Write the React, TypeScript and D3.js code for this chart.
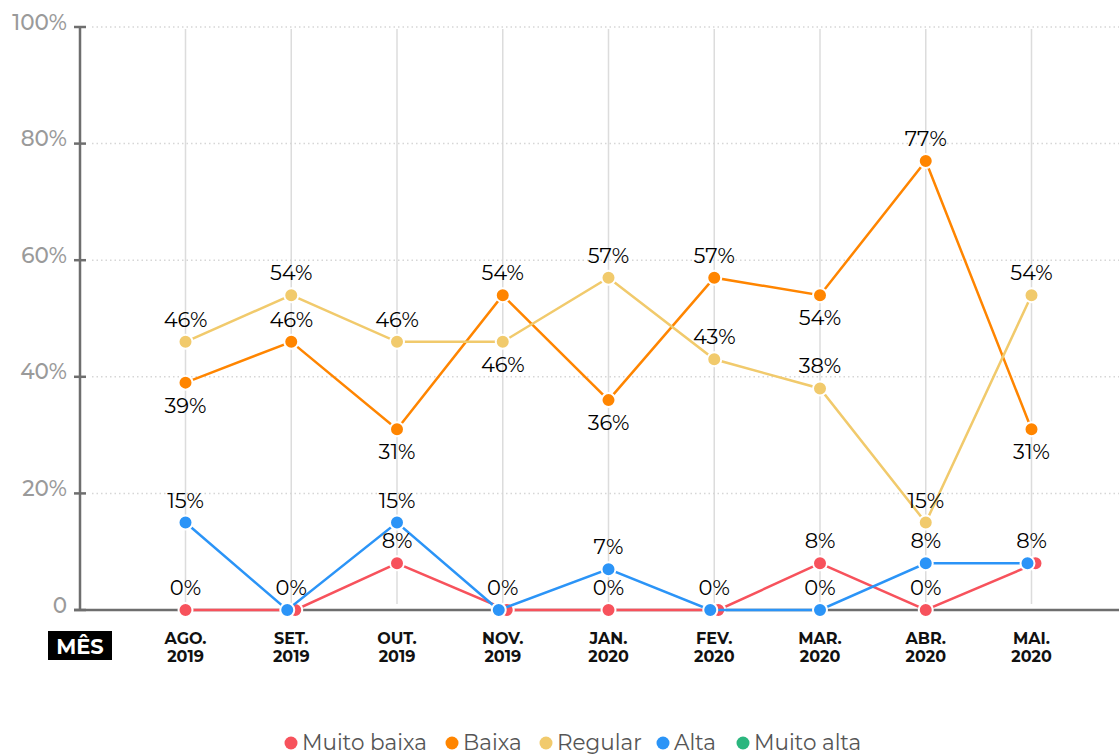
import React from "react";
import * as d3 from "d3";

// months on the x axis (two lines each)
const months = ["AGO.", "SET.", "OUT.", "NOV.", "JAN.", "FEV.", "MAR.", "ABR.", "MAI."];
const years = ["2019", "2019", "2019", "2019", "2020", "2020", "2020", "2020", "2020"];

// series values (%)
const muitoBaixa = [0, 0, 8, 0, 0, 0, 8, 0, 8];
const baixa = [39, 46, 31, 54, 36, 57, 54, 77, 31];
const regular = [46, 54, 46, 46, 57, 43, 38, 15, 54];
const alta = [15, 0, 15, 0, 7, 0, 0, 8, 8];
const muitoAlta: number[] = [];

const yTicks = [0, 20, 40, 60, 80, 100];

// which labels sit under their point (series name -> month index)
const labelBelow: Record<string, number[]> = {
  Baixa: [0, 2, 4, 6, 8],
  Regular: [3],
};

const series = [
  { name: "Muito baixa", color: "#f7525c", values: muitoBaixa },
  { name: "Baixa", color: "#ff8500", values: baixa },
  { name: "Regular", color: "#f1ca6c", values: regular },
  { name: "Alta", color: "#2b94f7", values: alta },
  { name: "Muito alta", color: "#2bb67e", values: muitoAlta },
];

const W = 1119;
const H = 756;
const FONT = "Montserrat, Inter, 'Noto Sans', sans-serif";

export default function App() {
  const x = d3.scalePoint<string>().domain(months).range([185.5, 1031.5]);
  const y = d3.scaleLinear().domain([0, 100]).range([610, 27]);

  // dodge points that share the same value in one month
  const dx = (si: number, i: number) => {
    const v = series[si].values[i];
    const same = series
      .map((s, k) => (s.values[i] === v ? k : -1))
      .filter((k) => k >= 0)
      .reverse();
    if (same.length < 2) return 0;
    const pos = same.indexOf(si);
    return (pos - (same.length - 1) / 2) * 8;
  };

  const labelled = new Set<string>();
  const labels: { x: number; y: number; t: string }[] = [];
  series.forEach((s) => {
    s.values.forEach((v, i) => {
      const below = (labelBelow[s.name] || []).includes(i);
      const key = `${i}-${v}-${below}`;
      if (labelled.has(key)) return;
      labelled.add(key);
      labels.push({
        x: x(months[i])!,
        y: y(v) + (below ? 30 : -15),
        t: `${v}%`,
      });
    });
  });

  const legendX = [291, 452, 546, 663, 743];

  return (
    <svg
      width={W}
      height={H}
      style={{ position: "absolute", left: 0, top: 0, background: "#fff" }}
      fontFamily={FONT}
    >
      {/* vertical grid */}
      {months.map((m) => (
        <line key={m} x1={x(m)} x2={x(m)} y1={29} y2={604} stroke="#dcdcdc" strokeWidth={1.5} />
      ))}
      {/* horizontal dotted grid */}
      {yTicks
        .filter((t) => t > 0)
        .map((t) => (
          <line
            key={t}
            x1={92}
            x2={W}
            y1={y(t)}
            y2={y(t)}
            stroke="#d6d6d6"
            strokeWidth={1.5}
            strokeDasharray="1.5 3"
          />
        ))}
      {/* y axis */}
      <line x1={80} x2={80} y1={y(100)} y2={y(0)} stroke="#6e6e6e" strokeWidth={2.5} />
      <line x1={74} x2={W} y1={y(0)} y2={y(0)} stroke="#6e6e6e" strokeWidth={2.5} />
      {yTicks.map((t) => (
        <g key={t}>
          <line x1={74} x2={86} y1={y(t)} y2={y(t)} stroke="#6e6e6e" strokeWidth={2.5} />
          <text
            x={67}
            y={y(t)}
            dy="0.12em"
            textAnchor="end"
            fontSize={21.5}
            fontWeight={500}
            fill="#9a9a9a"
          >
            {t === 0 ? "0" : `${t}%`}
          </text>
        </g>
      ))}

      {/* series lines and points */}
      {series.map((s, si) => {
        const pts = s.values.map((v, i) => [x(months[i])! + dx(si, i), y(v)] as [number, number]);
        const line = d3.line()(pts);
        return (
          <g key={s.name}>
            {pts.length > 1 && <path d={line || ""} fill="none" stroke={s.color} strokeWidth={2.5} />}
            {pts.map((p, i) => (
              <circle key={i} cx={p[0]} cy={p[1]} r={7} fill={s.color} stroke="#fff" strokeWidth={2} />
            ))}
          </g>
        );
      })}

      {/* value labels */}
      {labels.map((l, i) => (
        <text key={i} x={l.x} y={l.y} textAnchor="middle" fontSize={21} fill="#000">
          {l.t}
        </text>
      ))}

      {/* x axis labels */}
      <rect x={48} y={631} width={64} height={29} fill="#000" />
      <text x={80} y={653.5} textAnchor="middle" fontSize={21} fontWeight={700} fill="#fff">
        MÊS
      </text>
      {months.map((m, i) => (
        <text key={m} x={x(m)} textAnchor="middle" fontSize={16} fontWeight={700} fill="#111">
          <tspan x={x(m)} y={643.5}>
            {m}
          </tspan>
          <tspan x={x(m)} y={662}>
            {years[i]}
          </tspan>
        </text>
      ))}

      {/* legend */}
      {series.map((s, i) => (
        <g key={s.name}>
          <circle cx={legendX[i]} cy={743} r={6.5} fill={s.color} />
          <text x={legendX[i] + 11} y={750} fontSize={21.5} fill="#555">
            {s.name}
          </text>
        </g>
      ))}
    </svg>
  );
}
